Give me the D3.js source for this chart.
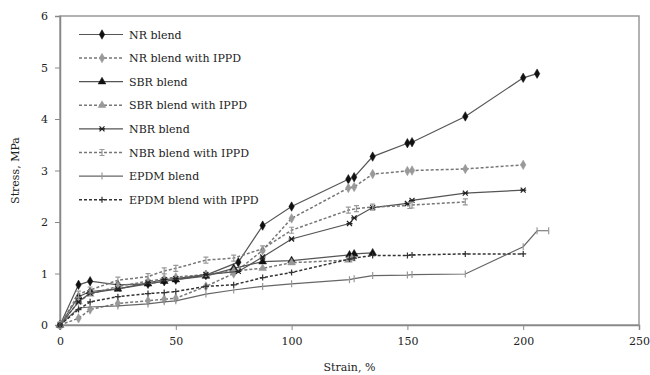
<!DOCTYPE html>
<html>
<head>
<meta charset="utf-8">
<script src="https://cdn.jsdelivr.net/npm/d3@7"></script>
<style>
  body { margin: 0; background: #fff; }
  svg text { font-family: "DejaVu Serif", serif; fill: #222; }
</style>
</head>
<body>
<svg id="chart"></svg>
<script>
const width = 650;
const height = 375;

// data: strain (%) and stress (MPa)
const nrStrain = [0, 8, 13, 25, 38, 45, 50, 63, 77, 87.5, 100, 124.5, 127, 135, 150, 152, 175, 200, 206];
const nrStress = [0, 0.78, 0.85, 0.78, 0.8, 0.85, 0.88, 0.97, 1.22, 1.93, 2.3, 2.83, 2.87, 3.27, 3.53, 3.55, 4.05, 4.8, 4.88];

const nrIppdStrain = [0, 8, 13, 25, 38, 45, 50, 63, 75, 87.5, 100, 124.5, 127, 135, 150, 152, 175, 200];
const nrIppdStress = [0, 0.13, 0.3, 0.42, 0.47, 0.5, 0.52, 0.75, 1.0, 1.45, 2.07, 2.66, 2.68, 2.93, 2.99, 3.0, 3.03, 3.11];

const sbrStrain = [0, 8, 13, 25, 38, 45, 50, 63, 75, 87.5, 100, 125, 127, 135];
const sbrStress = [0, 0.55, 0.65, 0.7, 0.8, 0.85, 0.88, 0.95, 1.1, 1.23, 1.25, 1.36, 1.38, 1.4];

const sbrIppdStrain = [0, 8, 13, 25, 38, 45, 50, 63, 75, 87.5, 100, 124.5, 126];
const sbrIppdStress = [0, 0.45, 0.6, 0.75, 0.85, 0.9, 0.93, 0.98, 1.05, 1.1, 1.21, 1.26, 1.29];

const nbrStrain = [0, 8, 13, 25, 38, 45, 50, 63, 77, 87.5, 100, 125, 127, 135, 150, 152, 175, 200];
const nbrStress = [0, 0.45, 0.62, 0.7, 0.82, 0.88, 0.9, 0.98, 1.04, 1.32, 1.67, 1.97, 2.08, 2.28, 2.36, 2.42, 2.56, 2.62];

const nbrIppdStrain = [0, 8, 13, 25, 38, 45, 50, 63, 75, 87.5, 100, 124.5, 128, 135, 151, 152, 175];
const nbrIppdStress = [0, 0.6, 0.68, 0.87, 0.94, 1.05, 1.1, 1.26, 1.3, 1.48, 1.84, 2.23, 2.26, 2.29, 2.32, 2.33, 2.39];

const epdmStrain = [0, 8, 13, 25, 38, 45, 50, 63, 75, 87.5, 100, 125, 127, 135, 150, 152, 175, 200, 206, 211];
const epdmStress = [0, 0.33, 0.35, 0.37, 0.41, 0.45, 0.47, 0.6, 0.68, 0.75, 0.8, 0.88, 0.9, 0.96, 0.97, 0.98, 0.99, 1.52, 1.83, 1.83];

const epdmIppdStrain = [0, 8, 13, 25, 38, 45, 50, 63, 75, 87.5, 100, 125, 127, 135, 150, 152, 175, 200];
const epdmIppdStress = [0, 0.3, 0.45, 0.55, 0.61, 0.63, 0.65, 0.75, 0.78, 0.92, 1.02, 1.28, 1.3, 1.35, 1.35, 1.36, 1.38, 1.38];

const seriesNames = ["NR blend", "NR blend with IPPD", "SBR blend", "SBR blend with IPPD",
  "NBR blend", "NBR blend with IPPD", "EPDM blend", "EPDM blend with IPPD"];
const xTicks = [0, 50, 100, 150, 200, 250];
const yTicks = [0, 1, 2, 3, 4, 5, 6];

const zip = (xs, ys) => xs.map((x, i) => ({ x: x, y: ys[i] }));
const series = [
  { name: seriesNames[0], pts: zip(nrStrain, nrStress), dash: null, line: "#555", marker: "diamond", mcol: "#111" },
  { name: seriesNames[1], pts: zip(nrIppdStrain, nrIppdStress), dash: "3,2", line: "#777", marker: "diamond", mcol: "#999" },
  { name: seriesNames[2], pts: zip(sbrStrain, sbrStress), dash: null, line: "#555", marker: "triangle", mcol: "#111" },
  { name: seriesNames[3], pts: zip(sbrIppdStrain, sbrIppdStress), dash: "3,2", line: "#777", marker: "triangle", mcol: "#999" },
  { name: seriesNames[4], pts: zip(nbrStrain, nbrStress), dash: null, line: "#555", marker: "star", mcol: "#222" },
  { name: seriesNames[5], pts: zip(nbrIppdStrain, nbrIppdStress), dash: "3,2", line: "#777", marker: "x", mcol: "#999" },
  { name: seriesNames[6], pts: zip(epdmStrain, epdmStress), dash: null, line: "#666", marker: "bar", mcol: "#999" },
  { name: seriesNames[7], pts: zip(epdmIppdStrain, epdmIppdStress), dash: "3,2", line: "#333", marker: "plus", mcol: "#333" }
];

const margin = { top: 16, right: 11, bottom: 50, left: 60 };
const x = d3.scaleLinear().domain([0, 250]).range([margin.left, width - margin.right]);
const y = d3.scaleLinear().domain([0, 6]).range([height - margin.bottom, margin.top]);

const svg = d3.select("#chart")
    .attr("width", width)
    .attr("height", height);

// plot area frame
svg.append("rect")
    .attr("x", x(0))
    .attr("y", y(6))
    .attr("width", x(250) - x(0))
    .attr("height", y(0) - y(6))
    .attr("fill", "none")
    .attr("stroke", "#999")
    .attr("stroke-width", 1.5);

const xAxis = svg.append("g")
    .attr("transform", `translate(0,${y(0)})`)
    .call(d3.axisBottom(x).tickValues(xTicks).tickFormat(d3.format("d")).tickSize(5).tickPadding(7));
const yAxis = svg.append("g")
    .attr("transform", `translate(${x(0)},0)`)
    .call(d3.axisLeft(y).tickValues(yTicks).tickFormat(d3.format("d")).tickSize(5).tickPadding(7));

[xAxis, yAxis].forEach(a => {
    a.select(".domain").attr("stroke", "#888").attr("stroke-width", 1.5);
    a.selectAll(".tick line").attr("stroke", "#888");
    a.selectAll(".tick text")
        .attr("font-family", "DejaVu Serif, serif")
        .attr("font-size", 11)
        .attr("fill", "#222");
});

svg.append("text")
    .attr("x", (x(0) + x(250)) / 2)
    .attr("y", 371)
    .attr("text-anchor", "middle")
    .attr("font-size", 11)
    .text("Strain, %");

svg.append("text")
    .attr("transform", `translate(19,${(y(0) + y(6)) / 2}) rotate(-90)`)
    .attr("text-anchor", "middle")
    .attr("font-size", 11)
    .text("Stress, MPa");

function markerPath(type) {
    switch (type) {
        case "diamond": return d3.symbol(d3.symbolDiamond, 26)();
        case "triangle": return d3.symbol(d3.symbolTriangle, 26)();
        case "plus": return "M-3,0H3M0,-3V3";
        case "bar": return "M0,-3.5V3.5";
        case "x": return "M-2.5,-3H2.5M-2.5,3H2.5M0,-3V3";
        case "star": return "M-2.5,-2.5L2.5,2.5M-2.5,2.5L2.5,-2.5M-3,0H3";
    }
}
const filled = t => t === "diamond" || t === "triangle";

const line = d3.line().x(d => x(d.x)).y(d => y(d.y));

series.forEach(s => {
    svg.append("path")
        .datum(s.pts)
        .attr("fill", "none")
        .attr("stroke", s.line)
        .attr("stroke-width", s.dash ? 1.5 : 1.2)
        .attr("stroke-dasharray", s.dash)
        .attr("d", line);

    svg.append("g").selectAll("path")
        .data(s.pts)
        .enter().append("path")
        .attr("transform", d => `translate(${x(d.x)},${y(d.y)})`)
        .attr("d", markerPath(s.marker))
        .attr("fill", filled(s.marker) ? s.mcol : "none")
        .attr("stroke", s.mcol)
        .attr("stroke-width", filled(s.marker) ? 0.5 : 1.2);
});

// legend
const legend = svg.append("g");
const item = legend.selectAll("g")
    .data(series)
    .enter().append("g")
    .attr("transform", (d, i) => `translate(79,${34.5 + i * 23.6})`);

item.append("line")
    .attr("x1", 0).attr("x2", 44)
    .attr("stroke", d => d.line)
    .attr("stroke-width", d => d.dash ? 1.5 : 1.2)
    .attr("stroke-dasharray", d => d.dash);

item.append("path")
    .attr("transform", "translate(23,0)")
    .attr("d", d => markerPath(d.marker))
    .attr("fill", d => filled(d.marker) ? d.mcol : "none")
    .attr("stroke", d => d.mcol)
    .attr("stroke-width", d => filled(d.marker) ? 0.5 : 1.2);

item.append("text")
    .attr("x", 50)
    .attr("y", 4)
    .attr("font-size", 11)
    .text(d => d.name);
</script>
</body>
</html>
